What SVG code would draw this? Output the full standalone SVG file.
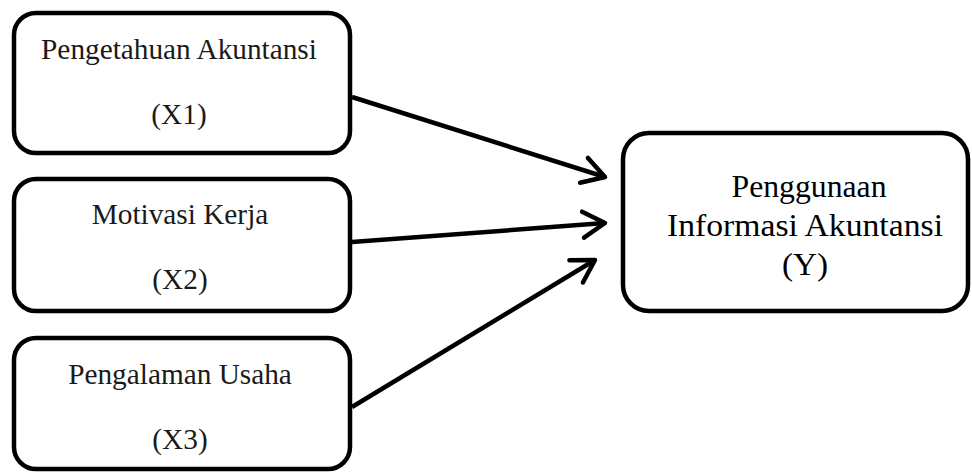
<svg xmlns="http://www.w3.org/2000/svg" width="972" height="473" viewBox="0 0 972 473">
<style>
.box{fill:#fff;stroke:#000;stroke-width:4.5}
.lt{font-family:"Liberation Serif","Times New Roman",serif;font-size:29.3px;fill:#1a1a1a;text-anchor:middle}
.rt{font-family:"Liberation Serif","Times New Roman",serif;font-size:31px;fill:#000;text-anchor:middle}
.conn{stroke:#000;stroke-width:4.5;fill:none}
</style>
<defs>
<marker id="arr" markerUnits="userSpaceOnUse" markerWidth="40" markerHeight="40" viewBox="-30 -20 40 40" refX="0" refY="0" orient="auto">
<path d="M-22,-13 L0,0 L-22,13" fill="none" stroke="#000" stroke-width="4.5" stroke-linecap="round" stroke-linejoin="round"/>
</marker>
</defs>
<rect width="972" height="473" fill="#fff"/>
<g id="x1">
<rect class="box" x="14" y="13" width="336" height="140" rx="22"/>
<text class="lt" x="179" y="59">Pengetahuan Akuntansi</text>
<text class="lt" x="179" y="124">(X1)</text>
</g>
<g id="x2">
<rect class="box" x="14" y="179" width="336" height="132" rx="22"/>
<text class="lt" x="180" y="224">Motivasi Kerja</text>
<text class="lt" x="180" y="289">(X2)</text>
</g>
<g id="x3">
<rect class="box" x="14" y="338" width="336" height="131" rx="22"/>
<text class="lt" x="180" y="384">Pengalaman Usaha</text>
<text class="lt" x="180" y="449">(X3)</text>
</g>
<g id="y">
<rect class="box" x="623" y="133" width="345" height="178" rx="26"/>
<text class="rt" x="809" y="197" textLength="155" lengthAdjust="spacingAndGlyphs">Penggunaan</text>
<text class="rt" x="805" y="236" textLength="276" lengthAdjust="spacingAndGlyphs">Informasi Akuntansi</text>
<text class="rt" x="805" y="275" textLength="46" lengthAdjust="spacingAndGlyphs">(Y)</text>
</g>
<g id="connectors">
<line class="conn" x1="352" y1="97" x2="605" y2="177" marker-end="url(#arr)"/>
<line class="conn" x1="352" y1="242" x2="605" y2="223" marker-end="url(#arr)"/>
<line class="conn" x1="352" y1="407" x2="595" y2="260" marker-end="url(#arr)"/>
</g>
</svg>
